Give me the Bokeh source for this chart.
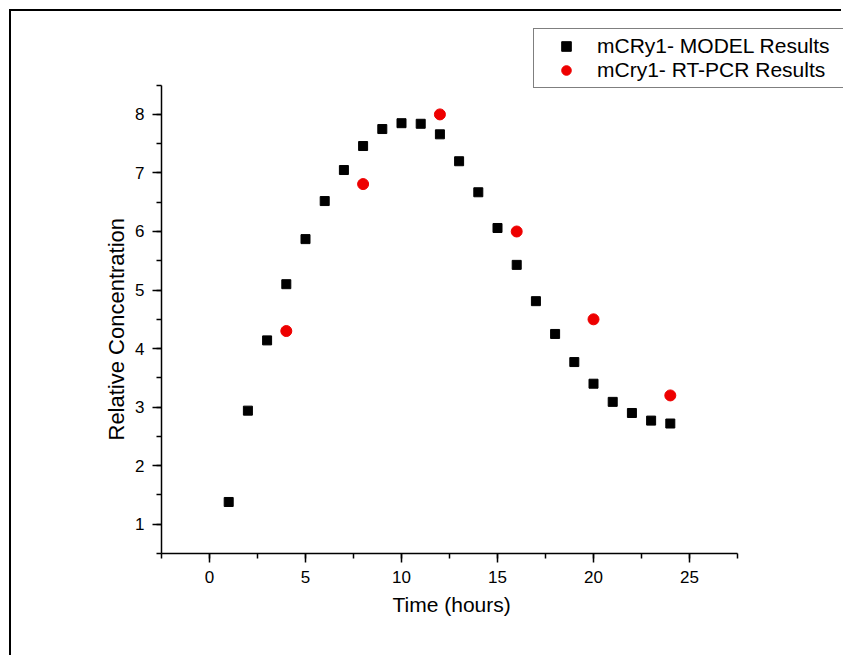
from bokeh.plotting import figure
from bokeh.models import Legend, LegendItem, Range1d, SingleIntervalTicker, Title
from bokeh.embed import file_html
from bokeh.resources import INLINE

model_hours = list(range(1, 25))
model_values = [1.38, 2.94, 4.14, 5.10, 5.87, 6.52, 7.05, 7.46, 7.75, 7.85, 7.84, 7.66,
                7.20, 6.67, 6.06, 5.43, 4.81, 4.25, 3.77, 3.40, 3.09, 2.90, 2.77, 2.72]
pcr_hours = [4, 8, 12, 16, 20, 24]
pcr_values = [4.30, 6.81, 8.00, 6.00, 4.50, 3.20]

x_ticks_interval = 5
y_ticks_interval = 1
x_label = "Time (hours)"
y_label = "Relative Concentration"

FONT = "Liberation Sans"

# canvas origin at (11, 11) because of the CSS margin+border below
p = figure(width=832, height=646, output_backend="svg", toolbar_location=None,
           x_range=Range1d(-2.5, 33.02), y_range=Range1d(0.5, 9.604),
           min_border_left=150, min_border_right=0, min_border_top=9, min_border_bottom=104)
p.outline_line_color = None
p.grid.visible = False
p.styles = {"border-left": "2px solid black", "border-top": "2px solid black",
            "margin-left": "9px", "margin-top": "9px"}

r_model = p.scatter(model_hours, model_values, marker="square", size=9,
                    fill_color="black", line_color="black")
r_pcr = p.scatter(pcr_hours, pcr_values, marker="circle", size=11,
                  fill_color="#ee0000", line_color="#ee0000")

p.xaxis.ticker = SingleIntervalTicker(interval=x_ticks_interval, num_minor_ticks=2)
p.yaxis.ticker = SingleIntervalTicker(interval=y_ticks_interval, num_minor_ticks=2)
p.xaxis.bounds = (-2.5, 27.5)
p.yaxis.bounds = (0.5, 8.5)
for ax in (p.xaxis, p.yaxis):
    ax.axis_line_width = 1.5
    ax.axis_line_color = "black"
    ax.major_tick_line_width = 1.5
    ax.minor_tick_line_width = 1.5
    ax.major_tick_line_color = "black"
    ax.minor_tick_line_color = "black"
    ax.major_tick_in = 0
    ax.major_tick_out = 9
    ax.minor_tick_in = 0
    ax.minor_tick_out = 5
    ax.major_label_text_font = FONT
    ax.major_label_text_font_size = "17px"
    ax.major_label_text_color = "black"
    ax.major_label_standoff = 8

# axis titles as side-panel titles so they centre on the drawn axis, not the frame
xt = Title(text=x_label, align="left", offset=231, text_font=FONT, text_font_size="21px",
           text_font_style="normal", text_color="black", standoff=10)
yt = Title(text=y_label, align="left", offset=113, text_font=FONT, text_font_size="22px",
           text_font_style="normal", text_color="black", standoff=8)
p.add_layout(xt, "below")
p.add_layout(yt, "left")

legend = Legend(items=[LegendItem(label="mCRy1- MODEL Results", renderers=[r_model]),
                       LegendItem(label="mCry1- RT-PCR Results", renderers=[r_pcr])],
                location=(372, 465))
legend.label_text_font = FONT
legend.label_text_font_size = "21px"
legend.label_text_color = "black"
legend.border_line_color = "black"
legend.border_line_width = 1
legend.background_fill_alpha = 1
legend.padding = 5
legend.spacing = 0
legend.margin = 0
legend.glyph_width = 54
legend.glyph_height = 24
legend.label_standoff = 4
legend.label_width = 290
p.add_layout(legend, "center")

open("out.html", "w").write(file_html(p, INLINE))
